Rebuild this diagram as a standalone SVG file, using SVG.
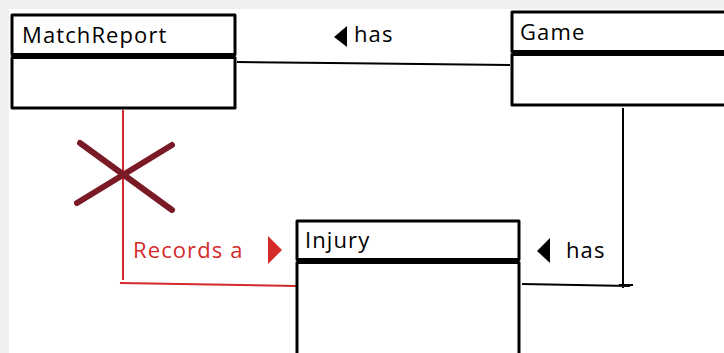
<svg xmlns="http://www.w3.org/2000/svg" width="724" height="353" viewBox="0 0 724 353">
<style>
.box{fill:#fff;stroke:#000;stroke-width:3;stroke-linejoin:round}
.t{font-family:"Open Sans","Liberation Sans",sans-serif;font-size:22px;letter-spacing:1.1px;fill:#000}
.ln{fill:none;stroke:#000;stroke-width:2}
.red{fill:none;stroke:#d42a2a;stroke-width:2}
</style>
<rect width="724" height="353" fill="#fff"/>
<rect x="0" y="0" width="724" height="9" fill="#f0f0f0"/>
<rect x="0" y="0" width="9" height="353" fill="#f0f0f0"/>
<g id="connectors">
  <path class="ln" d="M237 62 L330 63 L510 65"/>
  <path class="ln" d="M623 108 L623 288 M522 284 L630 286 M619 285 L633 285"/>
  <path class="red" d="M123 110 L123 280 M120 283 L296 286"/>
  <path d="M80 143 L172 210 M172 145 L77 203" fill="none" stroke="#7b1a27" stroke-width="6" stroke-linecap="round"/>
</g>
<g id="label-has-1">
  <path d="M347 26 L334 37 L347 47 Z" fill="#000"/>
  <text class="t" x="354" y="42">has</text>
</g>
<g id="label-has-2">
  <path d="M550 238 L537 251 L550 263 Z" fill="#000"/>
  <text class="t" x="566" y="258">has</text>
</g>
<g id="label-records">
  <text class="t" x="133" y="258" style="fill:#d42a2a">Records a</text>
  <path d="M268 236 L282 250 L268 264 Z" fill="#d42a2a"/>
</g>
<g id="MatchReport">
  <rect class="box" x="12" y="15" width="223" height="39.5"/>
  <rect class="box" x="12" y="57.5" width="223" height="50.5"/>
  <text class="t" x="22" y="43">MatchReport</text>
</g>
<g id="Game">
  <rect class="box" x="512" y="12" width="220" height="39.5"/>
  <rect class="box" x="512" y="54.5" width="220" height="50.5"/>
  <text class="t" x="520" y="40">Game</text>
</g>
<g id="Injury">
  <rect class="box" x="297" y="221" width="222" height="38.5"/>
  <rect class="box" x="297" y="262.5" width="222" height="97.5"/>
  <text class="t" x="305" y="248">Injury</text>
</g>
</svg>
